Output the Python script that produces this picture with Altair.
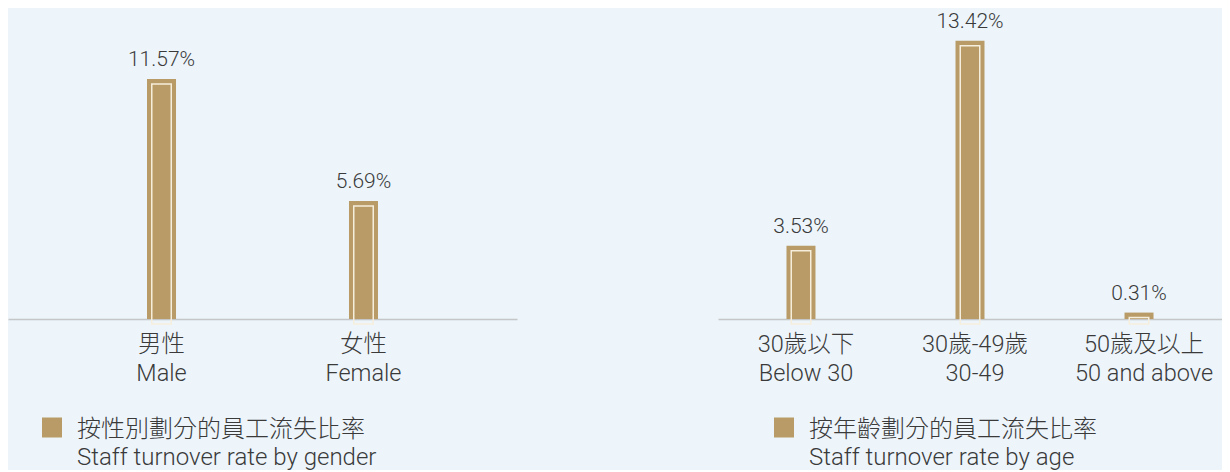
import altair as alt
import pandas as pd

# ---- data ----
gender_cats = ["男性\nMale", "女性\nFemale"]
gender_vals = [11.57, 5.69]
gender_text = ["11.57%", "5.69%"]
gender_series = "按性別劃分的員工流失比率\nStaff turnover rate by gender"

age_cats = ["30歲以下\nBelow 30", "30歲-49歲\n30-49", "50歲及以上\n50 and above"]
age_vals = [3.53, 13.42, 0.31]
age_text = ["3.53%", "13.42%", "0.31%"]
age_series = "按年齡劃分的員工流失比率\nStaff turnover rate by age"

TAN = "#B99B67"
CREAM = "#F6EEDC"
TXT = "#3a3a3a"
FONT = "Roboto, 'Noto Sans CJK TC', sans-serif"


def panel(cats, vals, texts, series, width, pin, pout, label_offset, legend_x):
    df = pd.DataFrame({"cat": cats, "val": vals, "txt": texts, "series": [series] * len(cats)})
    x = alt.X(
        "cat:N",
        sort=cats,
        scale=alt.Scale(paddingInner=pin, paddingOuter=pout),
        axis=alt.Axis(
            title=None,
            labelExpr="split(datum.label, '\\n')",
            labelAngle=0,
            ticks=False,
            domainColor="#c4c6c8",
            domainWidth=1.5,
            labelFont=FONT,
            labelFontSize=23.5,
            labelFontWeight=300,
            labelColor=TXT,
            labelLineHeight=29,
            labelPadding=13,
            labelOffset=label_offset,
            labelBaseline="top",
            labelLimit=0,
        ),
    )
    y = alt.Y("val:Q", scale=alt.Scale(domain=[0, 15]), axis=None)
    base = alt.Chart(df).encode(x=x)
    bars = base.mark_bar(size=29).encode(
        y=y,
        color=alt.Color(
            "series:N",
            scale=alt.Scale(range=[TAN]),
            legend=alt.Legend(
                title=None,
                orient="none",
                legendX=legend_x,
                legendY=410,
                padding=0,
                symbolType="M-1,-1.25H1V0.75H-1Z",
                symbolSize=400,
                symbolStrokeWidth=0,
                symbolOpacity=1,
                labelExpr="split(datum.label, '\\n')",
                labelFont=FONT,
                labelFontSize=24,
                labelFontWeight=300,
                labelColor=TXT,
                labelBaseline="middle",
                labelOffset=13,
                labelLimit=0,
            ),
        ),
    )
    inner = base.mark_bar(
        size=19.5, fillOpacity=0, stroke=CREAM, strokeWidth=1.5, yOffset=5, y2Offset=-5
    ).encode(y=y)
    labels = base.mark_text(
        baseline="alphabetic", dy=-13, font=FONT, fontSize=21, fontWeight=300, color=TXT
    ).encode(y=y, text="txt:N")
    return alt.layer(bars, inner, labels).properties(width=width, height=311)


left = panel(gender_cats, gender_vals, gender_text, gender_series, 509, 0, 0.26, 0, 32)
right = panel(age_cats, age_vals, age_text, age_series, 504, 0.018, 0, 5, 54)

chart = (
    alt.hconcat(left, right, spacing=201)
    .resolve_scale(color="independent", x="independent", y="independent")
    .resolve_legend(color="independent")
    .properties(padding=0, background="#EDF5FA")
    .configure(
        style={"guide-label": {"lineHeight": 28}},
        view=alt.ViewConfig(stroke="transparent", strokeWidth=0),
    )
)

chart.save("out.html", embed_options={"renderer": "svg", "actions": False})
